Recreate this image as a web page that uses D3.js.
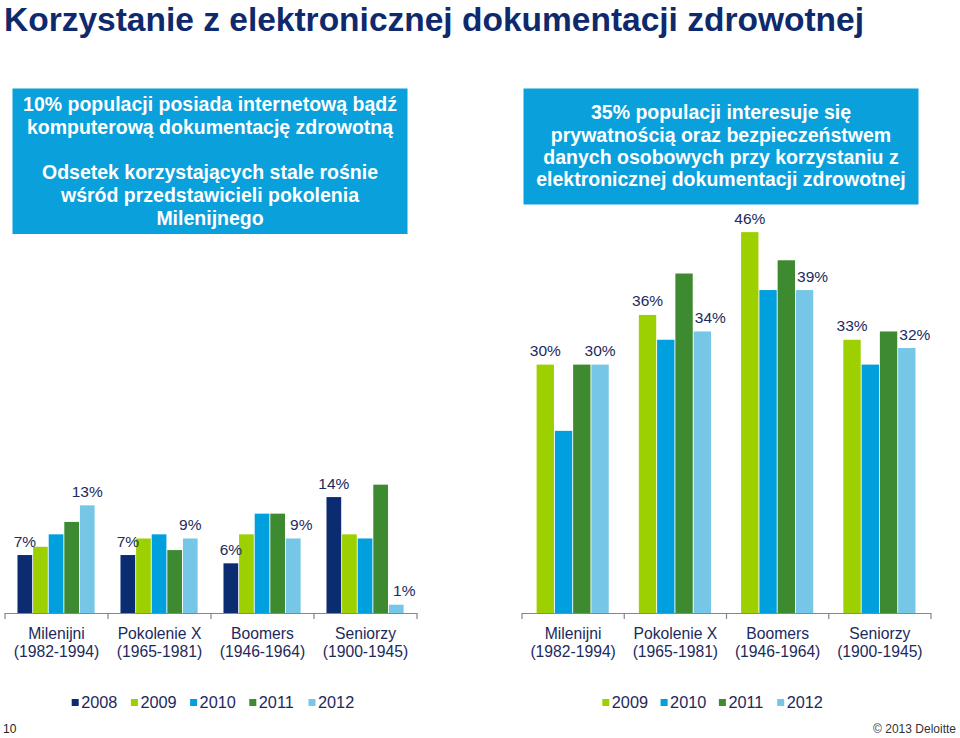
<!DOCTYPE html>
<html><head><meta charset="utf-8">
<script src="https://cdn.jsdelivr.net/npm/d3@7"></script>
<style>
body{margin:0;background:#fff;}
svg{display:block;font-family:"Liberation Sans",Arial,Helvetica,sans-serif;}
</style>
</head><body>
<svg id="c" width="960" height="738"></svg>
<script>
// ---------- DATA ----------
const titleText = "Korzystanie z elektronicznej dokumentacji zdrowotnej";
const leftBoxLines = ["10% populacji posiada internetową bądź", "komputerową dokumentację zdrowotną", "", "Odsetek korzystających stale rośnie", "wśród przedstawicieli pokolenia", "Milenijnego"];
const rightBoxLines = ["35% populacji interesuje się", "prywatnością oraz bezpieczeństwem", "danych osobowych przy korzystaniu z", "elektronicznej dokumentacji zdrowotnej"];

const categories = ["Milenijni", "Pokolenie X", "Boomers", "Seniorzy"];
const categoryYears = ["(1982-1994)", "(1965-1981)", "(1946-1964)", "(1900-1945)"];

// Left chart (2008–2012)
const leftYears = ["2008", "2009", "2010", "2011", "2012"];
const left2008 = [7, 7, 6, 14];
const left2009 = [8, 9, 9.5, 9.5];
const left2010 = [9.5, 9.5, 12, 9];
const left2011 = [11, 7.6, 12, 15.5];
const left2012 = [13, 9, 9, 1];
const leftLabeled = ["2008", "2012"];

// Right chart (2009–2012)
const rightYears = ["2009", "2010", "2011", "2012"];
const right2009 = [30, 36, 46, 33];
const right2010 = [22, 33, 39, 30];
const right2011 = [30, 41, 42.6, 34];
const right2012 = [30, 34, 39, 32];
const rightLabeled = ["2009", "2012"];

const yearColors = {"2008": "#0B2C70", "2009": "#9DD000", "2010": "#009FDD", "2011": "#3D8A30", "2012": "#75C6E7"};

// ---------- DRAW ----------
const svg = d3.select("#c");
const navy = "#1C2A5C";
const boxBlue = "#0AA0DC";

svg.append("text").attr("x", 4).attr("y", 30.5)
  .attr("font-size", 33.5).attr("font-weight", "bold").attr("fill", "#0F2A6C")
  .text(titleText);

function box(x, y, w, h, lines, firstBase, step) {
  svg.append("rect").attr("x", x).attr("y", y).attr("width", w).attr("height", h).attr("fill", boxBlue);
  svg.append("g").selectAll("text").data(lines).join("text")
    .attr("x", x + w / 2).attr("y", (d, i) => firstBase + i * step)
    .attr("text-anchor", "middle").attr("font-size", 19.5).attr("font-weight", "bold")
    .attr("fill", "#fff").text(d => d);
}
box(12.5, 88.5, 395, 145.5, leftBoxLines, 110.7, 22.9);
box(523.5, 88.5, 395, 116, rightBoxLines, 119.3, 22.35);

const y = d3.scaleLinear().domain([0, 50]).range([613, 613 - 414]);

function chart(range, years, seriesArr, labeled, legendStart, legendStep) {
  const g = svg.append("g");
  const x0 = d3.scaleBand().domain(categories).range(range).paddingInner(0).paddingOuter(0);
  const x1 = d3.scaleBand().domain(years).range([0, x0.bandwidth()]).paddingInner(0).paddingOuter(0.8);
  const bw = x1.bandwidth() - 0.9;
  const rows = [];
  categories.forEach((c, ci) => {
    years.forEach((yr, si) => {
      rows.push({c, ci, yr, v: seriesArr[si][ci]});
    });
  });
  g.selectAll("rect.bar").data(rows).join("rect").attr("class", "bar")
    .attr("x", d => x0(d.c) + x1(d.yr))
    .attr("y", d => y(d.v))
    .attr("width", bw)
    .attr("height", d => y(0) - y(d.v))
    .attr("fill", d => yearColors[d.yr]);

  // value labels
  const i2011 = years.indexOf("2011");
  g.selectAll("text.val").data(rows.filter(d => labeled.includes(d.yr))).join("text").attr("class", "val")
    .attr("x", d => {
      let cx = x0(d.c) + x1(d.yr) + bw / 2;
      if (d.yr === "2012" && seriesArr[i2011][d.ci] > d.v) cx += 8;
      return cx;
    })
    .attr("y", d => y(d.v) - 8.5)
    .attr("text-anchor", "middle").attr("font-size", 15.5).attr("fill", navy)
    .text(d => d.v + "%");

  // axis line and boundary ticks
  const axisColor = "#7D8898";
  g.append("line").attr("x1", range[0]).attr("x2", range[1]).attr("y1", y(0) + 0.5).attr("y2", y(0) + 0.5)
    .attr("stroke", axisColor).attr("stroke-width", 1.2);
  const bounds = categories.map(c => x0(c)).concat([range[1]]);
  g.selectAll("line.tick").data(bounds).join("line").attr("class", "tick")
    .attr("x1", d => d).attr("x2", d => d).attr("y1", y(0)).attr("y2", y(0) + 6)
    .attr("stroke", axisColor).attr("stroke-width", 1.2);

  // category labels
  const lab = g.selectAll("text.cat").data(categories).join("text").attr("class", "cat")
    .attr("text-anchor", "middle").attr("font-size", 15.7).attr("fill", navy);
  lab.append("tspan").attr("x", d => x0(d) + x0.bandwidth() / 2).attr("y", 638.5).text(d => d);
  lab.append("tspan").attr("x", d => x0(d) + x0.bandwidth() / 2).attr("y", 656.5).text((d, i) => categoryYears[i]);

  // legend
  const lg = g.selectAll("g.leg").data(years).join("g").attr("class", "leg")
    .attr("transform", (d, i) => `translate(${legendStart + i * legendStep},0)`);
  lg.append("rect").attr("x", 0).attr("y", 699).attr("width", 7).attr("height", 7).attr("fill", d => yearColors[d]);
  lg.append("text").attr("x", 9.5).attr("y", 707.8).attr("font-size", 16.3).attr("fill", navy).text(d => d);
}

chart([5, 417], leftYears, [left2008, left2009, left2010, left2011, left2012], leftLabeled, 71.7, 59.2);
chart([522, 931], rightYears, [right2009, right2010, right2011, right2012], rightLabeled, 602.3, 58.3);

svg.append("text").attr("x", 3).attr("y", 733).attr("font-size", 12).attr("fill", "#222").text("10");
svg.append("text").attr("x", 956).attr("y", 733).attr("text-anchor", "end").attr("font-size", 12).attr("fill", "#333").text("© 2013 Deloitte");
</script>
</body></html>
